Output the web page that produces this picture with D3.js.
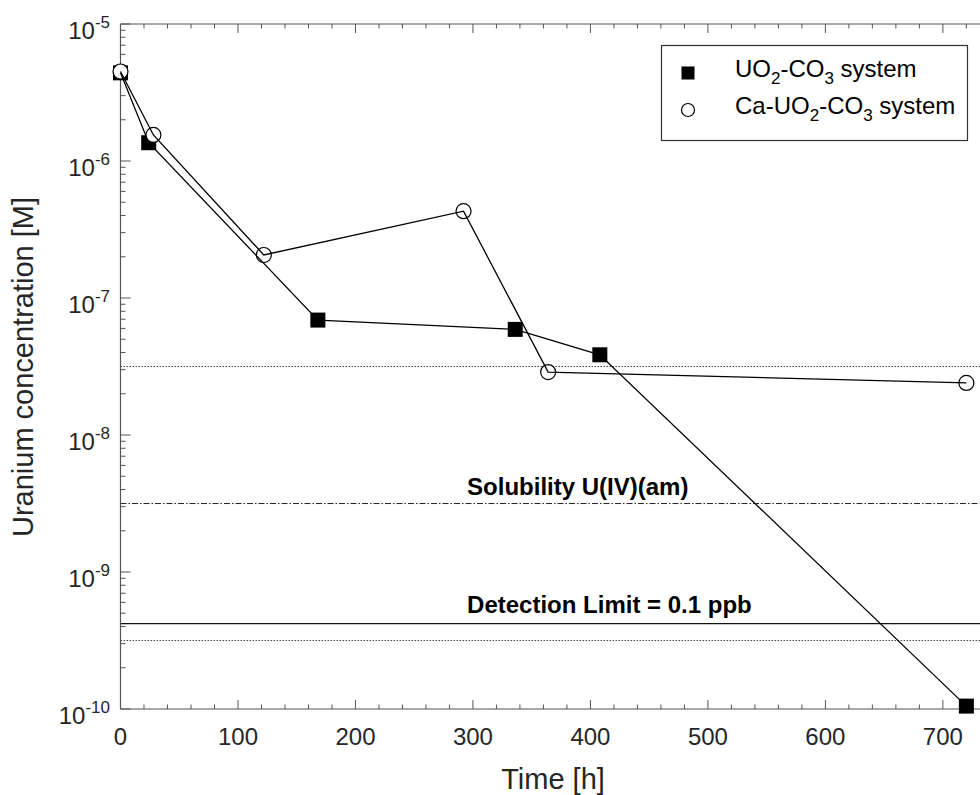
<!DOCTYPE html>
<html>
<head>
<meta charset="utf-8">
<script src="https://cdn.jsdelivr.net/npm/d3@7"></script>
<style>
  html, body { margin: 0; padding: 0; background: #fff; }
  svg { display: block; font-family: "Liberation Sans", Arial, Helvetica, sans-serif; }
</style>
</head>
<body>
<svg id="chart" width="980" height="795"></svg>
<script>
// ---- Data ----
const seriesNames = ["UO2-CO3 system", "Ca-UO2-CO3 system"];
const timeUO2 = [0, 24, 168, 336, 408, 720];
const concUO2 = [4.4e-6, 1.36e-6, 6.9e-8, 5.9e-8, 3.85e-8, 1.05e-10];
const timeCaUO2 = [0, 28, 122, 292, 364, 720];
const concCaUO2 = [4.5e-6, 1.55e-6, 2.06e-7, 4.3e-7, 2.88e-8, 2.4e-8];

const refValues = [3.16e-8, 3.16e-9, 4.2e-10, 3.16e-10];
const refLabels = ["", "Solubility U(IV)(am)", "Detection Limit = 0.1 ppb", ""];
const labelTime = 295;

const xTicks = [0, 100, 200, 300, 400, 500, 600, 700];
const yExponents = [-5, -6, -7, -8, -9, -10];
const xLabel = "Time [h]";
const yLabel = "Uranium concentration [M]";

(function () {
// ---- Layout ----
const svg = d3.select("#chart");
const pL = 120.5, pR = 980, pT = 24, pB = 709;
const x = d3.scaleLinear().domain([0, 731.6]).range([pL, pR]);
const y = d3.scaleLog().domain([1e-10, 1e-5]).range([pB, pT]);

const axisColor = "#555";
const textColor = "#262626";

// Reference lines
const refStyles = [
  { dash: "1.5,1.5", color: "#444", w: 1 },
  { dash: "6,2,1.5,2", color: "#222", w: 1 },
  { dash: null, color: "#111", w: 1.2 },
  { dash: "1.5,1.5", color: "#444", w: 1 }
];
refValues.forEach((v, i) => {
  const l = svg.append("line")
    .attr("x1", pL).attr("x2", pR)
    .attr("y1", y(v)).attr("y2", y(v))
    .attr("stroke", refStyles[i].color)
    .attr("stroke-width", refStyles[i].w);
  if (refStyles[i].dash) l.attr("stroke-dasharray", refStyles[i].dash);
});
const labelOffsets = [0, 9, 11, 0];
refValues.forEach((v, i) => {
  if (!refLabels[i]) return;
  svg.append("text")
    .attr("x", x(labelTime))
    .attr("y", y(v) - labelOffsets[i])
    .attr("font-size", 24)
    .attr("font-weight", "bold")
    .attr("fill", "#000")
    .text(refLabels[i]);
});

// Axes frame
svg.append("line").attr("x1", pL).attr("x2", pL).attr("y1", pT).attr("y2", pB)
  .attr("stroke", axisColor).attr("stroke-width", 1.2);
svg.append("line").attr("x1", pL).attr("x2", pR).attr("y1", pB).attr("y2", pB)
  .attr("stroke", axisColor).attr("stroke-width", 1.2);
svg.append("line").attr("x1", pL).attr("x2", pR).attr("y1", pT).attr("y2", pT)
  .attr("stroke", axisColor).attr("stroke-width", 1.2);

// X ticks (bottom and top), major + minor
const xMinor = d3.range(0, 731, 20).filter(t => t % 100 !== 0);
const tickG = svg.append("g").attr("stroke", axisColor).attr("stroke-width", 1);
xTicks.forEach(t => {
  tickG.append("line").attr("x1", x(t)).attr("x2", x(t)).attr("y1", pB).attr("y2", pB - 9);
  tickG.append("line").attr("x1", x(t)).attr("x2", x(t)).attr("y1", pT).attr("y2", pT + 9);
});
xMinor.forEach(t => {
  tickG.append("line").attr("x1", x(t)).attr("x2", x(t)).attr("y1", pB).attr("y2", pB - 4.5);
  tickG.append("line").attr("x1", x(t)).attr("x2", x(t)).attr("y1", pT).attr("y2", pT + 4.5);
});
// Y ticks, major + minor (log)
yExponents.forEach(e => {
  const v = Math.pow(10, e);
  tickG.append("line").attr("x1", pL).attr("x2", pL + 10).attr("y1", y(v)).attr("y2", y(v));
});
yExponents.slice(1).forEach(e => {
  for (let k = 2; k <= 9; k++) {
    const v = k * Math.pow(10, e);
    tickG.append("line").attr("x1", pL).attr("x2", pL + 5).attr("y1", y(v)).attr("y2", y(v));
  }
});

// X tick labels
xTicks.forEach(t => {
  svg.append("text").attr("x", x(t)).attr("y", 745)
    .attr("text-anchor", "middle").attr("font-size", 24).attr("fill", textColor)
    .text(t);
});
// Y tick labels
yExponents.forEach(e => {
  const v = Math.pow(10, e);
  const tx = svg.append("text").attr("x", 110).attr("y", y(v) + 15)
    .attr("text-anchor", "end").attr("font-size", 24).attr("fill", textColor);
  tx.append("tspan").text("10");
  tx.append("tspan").attr("dy", -11).attr("font-size", 17).text(String(e));
});

// Axis labels
svg.append("text").attr("x", 553).attr("y", 789)
  .attr("text-anchor", "middle").attr("font-size", 29).attr("fill", textColor).text(xLabel);
svg.append("text").attr("transform", "translate(33,367) rotate(-90)")
  .attr("text-anchor", "middle").attr("font-size", 29).attr("fill", textColor).text(yLabel);

// Data
const dUO2 = timeUO2.map((t, i) => ({ t, c: concUO2[i] }));
const dCa = timeCaUO2.map((t, i) => ({ t, c: concCaUO2[i] }));
const line = d3.line().x(d => x(d.t)).y(d => y(d.c));

const sq = 15, rr = 7.5;
svg.append("g").selectAll("rect").data(dUO2).join("rect")
  .attr("x", d => x(d.t) - sq / 2).attr("y", d => y(d.c) - sq / 2)
  .attr("width", sq).attr("height", sq).attr("fill", "#000");
svg.append("g").selectAll("circle").data(dCa).join("circle")
  .attr("cx", d => x(d.t)).attr("cy", d => y(d.c)).attr("r", rr)
  .attr("fill", "#fff").attr("stroke", "#000").attr("stroke-width", 1.2);

svg.append("path").datum(dUO2).attr("d", line)
  .attr("fill", "none").attr("stroke", "#000").attr("stroke-width", 1.3);
svg.append("path").datum(dCa).attr("d", line)
  .attr("fill", "none").attr("stroke", "#000").attr("stroke-width", 1.3);

// Legend
const lg = svg.append("g");
lg.append("rect").attr("x", 661.5).attr("y", 45.5).attr("width", 306).attr("height", 95)
  .attr("fill", "#fff").attr("stroke", "#333").attr("stroke-width", 1.2);
const legY = [73, 110];
lg.append("rect").attr("x", 688 - 6.5).attr("y", legY[0] - 6.5).attr("width", 13).attr("height", 13).attr("fill", "#000");
lg.append("circle").attr("cx", 688).attr("cy", legY[1]).attr("r", 6.5)
  .attr("fill", "#fff").attr("stroke", "#000").attr("stroke-width", 1.2);

function chemText(g, xx, yy, parts) {
  const t = g.append("text").attr("x", xx).attr("y", yy).attr("font-size", 24).attr("fill", "#000");
  parts.forEach(p => {
    if (p.sub) {
      t.append("tspan").attr("dy", 7).attr("font-size", 17).text(p.s);
    } else if (p.after) {
      t.append("tspan").attr("dy", -7).text(p.s);
    } else {
      t.append("tspan").text(p.s);
    }
  });
}
chemText(lg, 735, 77, [{ s: "UO" }, { s: "2", sub: true }, { s: "-CO", after: true }, { s: "3", sub: true }, { s: " system", after: true }]);
chemText(lg, 735, 114, [{ s: "Ca-UO" }, { s: "2", sub: true }, { s: "-CO", after: true }, { s: "3", sub: true }, { s: " system", after: true }]);
})();
</script>
</body>
</html>
